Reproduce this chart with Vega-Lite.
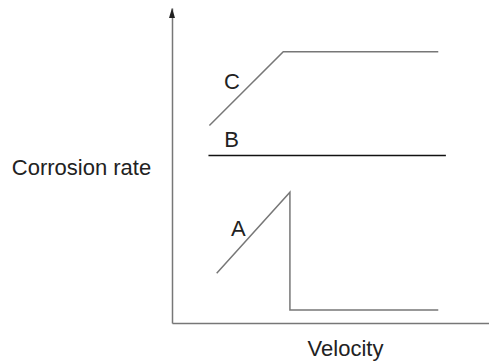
{
  "$schema": "https://vega.github.io/schema/vega-lite/v6.json",
  "width": 317,
  "height": 315,
  "autosize": "none",
  "padding": {"left": 172, "top": 8, "right": 0, "bottom": 41},
  "background": "white",
  "config": {
    "view": {"stroke": null},
    "font": "Liberation Sans",
    "axis": {"grid": false, "ticks": false, "labels": false, "domainColor": "#777777", "domainWidth": 1.5, "titleFont": "Liberation Sans", "titleFontSize": 22, "titleFontWeight": "normal", "titleColor": "#222222"}
  },
  "datasets": {
    "curves": [
      {"curve": "A", "order": 1, "v": 14.1, "r": 15.8},
      {"curve": "A", "order": 2, "v": 37.2, "r": 41.5},
      {"curve": "A", "order": 3, "v": 37.2, "r": 4.1},
      {"curve": "A", "order": 4, "v": 84.0, "r": 4.1},
      {"curve": "B", "order": 1, "v": 11.5, "r": 53.2},
      {"curve": "B", "order": 2, "v": 86.4, "r": 53.2},
      {"curve": "C", "order": 1, "v": 11.8, "r": 62.7},
      {"curve": "C", "order": 2, "v": 35.1, "r": 86.1},
      {"curve": "C", "order": 3, "v": 84.0, "r": 86.1}
    ],
    "labels": [
      {"label": "A", "v": 20.9, "r": 29.8},
      {"label": "B", "v": 18.8, "r": 58.0},
      {"label": "C", "v": 18.9, "r": 76.6}
    ],
    "arrow": [{"v": 0, "r": 100}]
  },
  "layer": [
    {
      "data": {"name": "curves"},
      "mark": {"type": "line", "strokeWidth": 1.5},
      "encoding": {
        "x": {"field": "v", "type": "quantitative", "scale": {"domain": [0, 100], "nice": false, "zero": false}, "axis": {"title": "Velocity", "titleX": 173, "titleY": 25, "titleAlign": "center", "titleBaseline": "middle"}},
        "y": {"field": "r", "type": "quantitative", "scale": {"domain": [0, 100], "nice": false, "zero": false}, "axis": {"title": "Corrosion rate", "titleAngle": 0, "titleX": -91, "titleY": 159, "titleAlign": "center", "titleBaseline": "middle"}},
        "detail": {"field": "curve"},
        "order": {"field": "order"},
        "color": {"field": "curve", "type": "nominal", "scale": {"domain": ["A", "B", "C"], "range": ["#777777", "#111111", "#777777"]}, "legend": null}
      }
    },
    {
      "data": {"name": "labels"},
      "mark": {"type": "text", "fontSize": 22, "font": "Liberation Sans", "color": "#222222", "baseline": "middle", "align": "center"},
      "encoding": {
        "x": {"field": "v", "type": "quantitative"},
        "y": {"field": "r", "type": "quantitative"},
        "text": {"field": "label"}
      }
    },
    {
      "data": {"name": "arrow"},
      "mark": {"type": "point", "shape": "M0,0L0.6,2L-0.6,2Z", "filled": true, "size": 100, "color": "#222222", "opacity": 1},
      "encoding": {
        "x": {"field": "v", "type": "quantitative"},
        "y": {"field": "r", "type": "quantitative"}
      }
    }
  ]
}
